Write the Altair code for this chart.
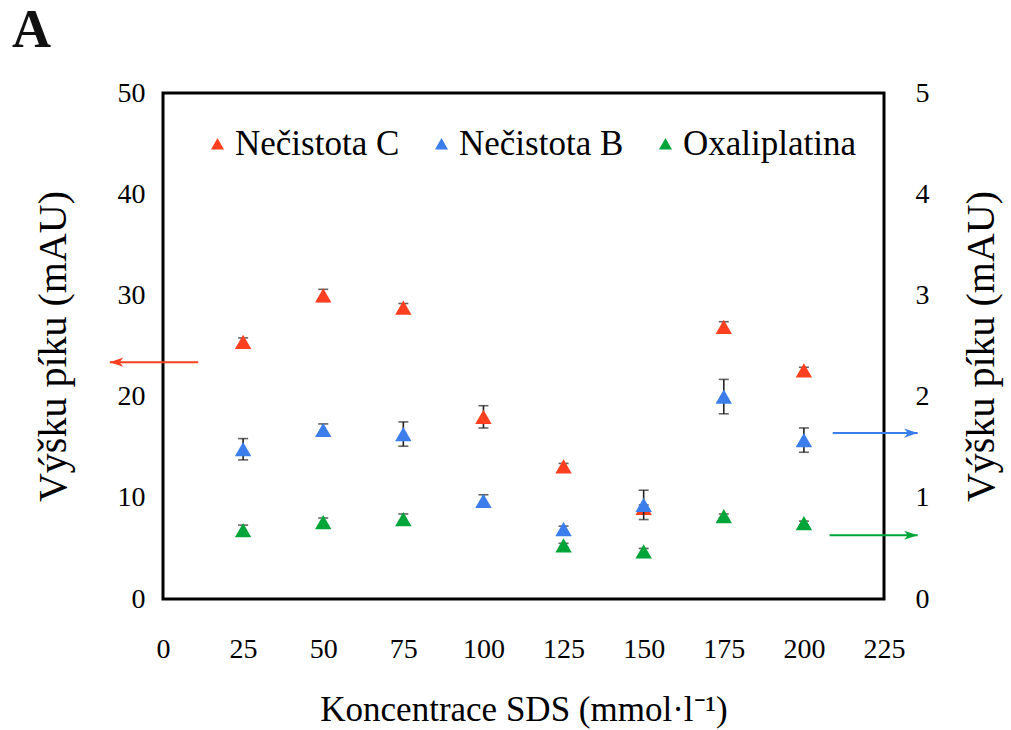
import altair as alt
import pandas as pd

# ---- data ----
conc = [25, 50, 75, 100, 125, 150, 175, 200]
nec_c = [25.4, 30.0, 28.8, 18.0, 13.1, 9.0, 26.9, 22.6]
nec_c_err = [0.4, 0.6, 0.4, 1.1, 0.3, 0.3, 0.5, 0.3]
nec_b = [1.48, 1.67, 1.63, 0.97, 0.69, 0.93, 2.00, 1.57]
nec_b_err = [0.105, 0.06, 0.12, 0.06, 0.03, 0.145, 0.17, 0.12]
oxa_conc = [25, 50, 75, 125, 150, 175, 200]
oxa = [0.68, 0.76, 0.79, 0.53, 0.47, 0.82, 0.75]
oxa_err = [0.05, 0.04, 0.05, 0.02, 0.03, 0.02, 0.02]

series = ["Nečistota C", "Nečistota B", "Oxaliplatina"]
colors = ["#FF4020", "#3A7DEB", "#00A53A"]

x_ticks = [0, 25, 50, 75, 100, 125, 150, 175, 200, 225]
left_ticks = [0, 10, 20, 30, 40, 50]
right_ticks = [0, 1, 2, 3, 4, 5]

# arrows (which axis each series belongs to): x start, x end (tip), y level
arrow_series = ["Nečistota C", "Nečistota B", "Oxaliplatina"]
arrow_x_from = [11.0, 209.0, 208.0]
arrow_x_to = [-16.6, 235.5, 235.5]
arrow_y = [23.4, 1.64, 0.63]

FONT = "Liberation Serif"

# ---- tables ----
left_df = pd.DataFrame({"x": conc, "v": nec_c, "err": nec_c_err, "series": "Nečistota C"})
right_df = pd.concat([
    pd.DataFrame({"x": conc, "v": nec_b, "err": nec_b_err, "series": "Nečistota B"}),
    pd.DataFrame({"x": oxa_conc, "v": oxa, "err": oxa_err, "series": "Oxaliplatina"}),
], ignore_index=True)
for d in (left_df, right_df):
    d["lo"] = d["v"] - d["err"]
    d["hi"] = d["v"] + d["err"]


def caps(d):
    return pd.concat([
        pd.DataFrame({"x": d["x"], "c": d["lo"], "series": d["series"]}),
        pd.DataFrame({"x": d["x"], "c": d["hi"], "series": d["series"]}),
    ], ignore_index=True)


arrows = pd.DataFrame({"series": arrow_series, "x0": arrow_x_from,
                       "x1": arrow_x_to, "y": arrow_y})
arrows["color"] = [colors[series.index(s)] for s in arrow_series]
left_arrows = arrows[arrows["series"] == "Nečistota C"]
right_arrows = arrows[arrows["series"] != "Nečistota C"]

xscale = alt.Scale(domain=[0, 225], nice=False, zero=False)
xaxis = alt.Axis(values=x_ticks, title="Koncentrace SDS (mmol·l⁻¹)", grid=False,
                 ticks=False, domain=False, labelFlush=False, labelOverlap=False,
                 labelFont=FONT, labelFontSize=28, labelColor="black", labelPadding=36,
                 titleFont=FONT, titleFontSize=35, titleFontWeight="normal",
                 titleColor="black", titlePadding=29)

lscale = alt.Scale(domain=[0, 50], nice=False)
rscale = alt.Scale(domain=[0, 5], nice=False)
laxis = alt.Axis(values=left_ticks, title="Výšku píku (mAU)", grid=False, ticks=False,
                 domain=False, labelFont=FONT, labelFontSize=28, labelColor="black",
                 labelPadding=18, titleFont=FONT, titleFontSize=40,
                 titleFontWeight="normal", titleColor="black", titlePadding=44)
raxis = alt.Axis(values=right_ticks, orient="right", title="Výšku píku (mAU)", grid=False,
                 ticks=False, domain=False, labelFont=FONT, labelFontSize=28,
                 labelColor="black", labelPadding=31, labelAlign="left",
                 titleFont=FONT, titleFontSize=40, titleFontWeight="normal",
                 titleColor="black", titlePadding=72, titleAngle=270)

legend = alt.Legend(title=None, orient="none", direction="horizontal", legendX=37,
                    legendY=33, symbolType="triangle-up", symbolSize=170,
                    symbolStrokeWidth=0, labelFont=FONT, labelFontSize=35,
                    labelColor="black", labelOffset=0, columnPadding=24, padding=0,
                    labelLimit=400)
color = alt.Color("series:N", scale=alt.Scale(domain=series, range=colors), legend=legend)

ERR = "#222222"
arrow_head_r = "M0,0 L-2.2,-0.75 L-1.6,0 L-2.2,0.75 Z"
arrow_head_l = "M0,0 L2.2,-0.75 L1.6,0 L2.2,0.75 Z"


def side(df, scale, axis, arrows_df, head_shape):
    X = lambda f: alt.X(f, scale=xscale, axis=xaxis)
    Y = lambda f: alt.Y(f, scale=scale, axis=axis)
    base = alt.Chart(df)
    rules = base.mark_rule(color=ERR, strokeWidth=1.6).encode(
        x=X("x:Q"), y=Y("lo:Q"), y2="hi:Q")
    cap = alt.Chart(caps(df)).mark_tick(color=ERR, orient="horizontal", size=10,
                                        thickness=1.6).encode(
        x=X("x:Q"), y=Y("c:Q"))
    pts = base.mark_point(shape="triangle-up", filled=True, size=270, opacity=1).encode(
        x=X("x:Q"), y=Y("v:Q"), color=color)
    arr = alt.Chart(arrows_df).mark_rule(strokeWidth=2, clip=False).encode(
        x=X("x0:Q"), x2="x1:Q", y=Y("y:Q"),
        color=alt.Color("color:N", scale=None, legend=None))
    head = alt.Chart(arrows_df).mark_point(shape=head_shape, filled=True, size=150,
                                           opacity=1, clip=False).encode(
        x=X("x1:Q"), y=Y("y:Q"),
        color=alt.Color("color:N", scale=None, legend=None))
    return alt.layer(rules, cap, pts, arr, head)


left = side(left_df, lscale, laxis, left_arrows, arrow_head_l)
right = side(right_df, rscale, raxis, right_arrows, arrow_head_r)

chart = alt.layer(left, right).resolve_scale(y="independent").properties(
    width=721, height=506, background="white",
    title=alt.TitleParams("A", anchor="start", frame="group", font=FONT, fontSize=54,
                          fontWeight="bold", color="#111111", dx=-151, offset=21),
    autosize=alt.AutoSizeParams(type="none"),
    padding={"left": 163, "top": 93, "right": 127, "bottom": 131},
).configure_view(stroke="black", strokeWidth=3)

chart.save("out.html", embed_options={"renderer": "svg", "actions": False})
